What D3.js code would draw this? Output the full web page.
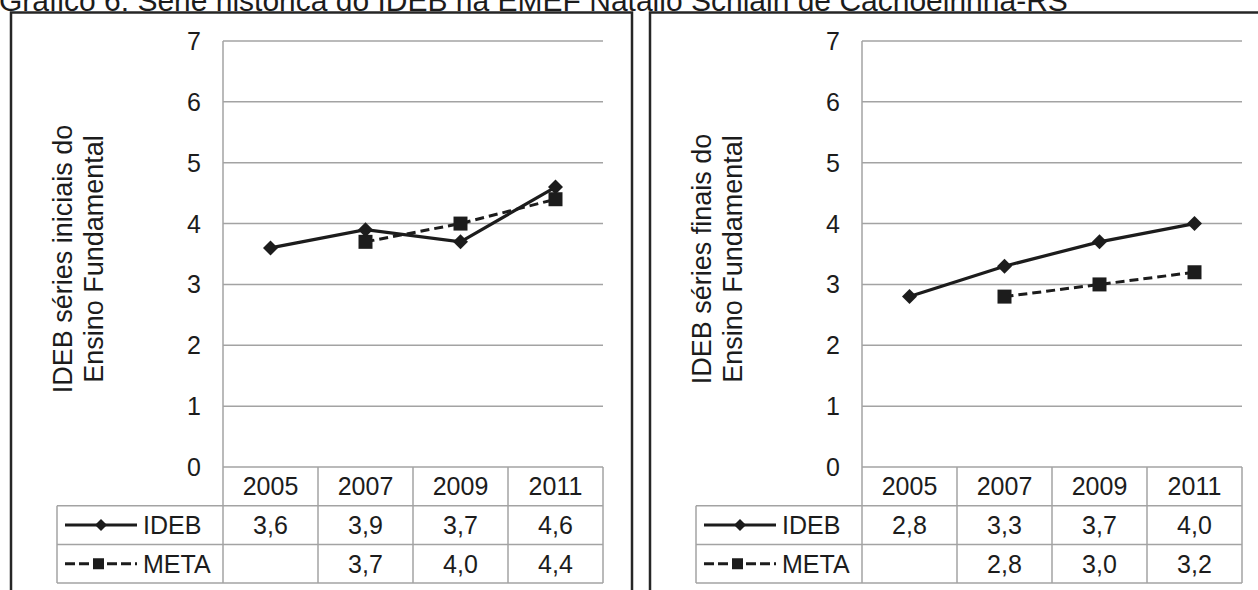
<!DOCTYPE html>
<html>
<head>
<meta charset="utf-8">
<script src="https://cdn.jsdelivr.net/npm/d3@7"></script>
<style>
  html, body { margin: 0; padding: 0; background: #fff; }
  svg { display: block; font-family: "Liberation Sans", Arial, sans-serif; }
</style>
</head>
<body>
<svg id="chart" width="1258" height="590"></svg>
<script>
// IDEB history, EMEF Natalio Schlain
const years = ["2005", "2007", "2009", "2011"];
const yTicks = [0, 1, 2, 3, 4, 5, 6, 7];

const idebIniciais = [3.6, 3.9, 3.7, 4.6];
const metaIniciais = [null, 3.7, 4.0, 4.4];

const idebFinais = [2.8, 3.3, 3.7, 4.0];
const metaFinais = [null, 2.8, 3.0, 3.2];

const titleText = "Gráfico 6: Série histórica do IDEB na EMEF Natalio Schlain de Cachoeirinha-RS";
const yTitleIniciais = ["IDEB séries iniciais do", "Ensino Fundamental"];
const yTitleFinais = ["IDEB séries finais do", "Ensino Fundamental"];

const ptBR = d3.formatLocale({ decimal: ",", thousands: ".", grouping: [3], currency: ["R$", ""] });
const fmt = ptBR.format(".1f");

const INK = "#1c1c1c";
const GRID = "#a3a3a3";
const FONT = 25;

const svg = d3.select("#chart");

// page caption, partly cropped at the top edge
svg.append("text")
  .attr("x", -1).attr("y", 11)
  .attr("font-size", 30).attr("fill", INK)
  .text(titleText);

function drawPanel(offsetX, yTitle, ideb, meta) {
  const g = svg.append("g").attr("transform", `translate(${offsetX},0)`);

  // panel frame
  g.append("rect")
    .attr("x", 11).attr("y", 12.5)
    .attr("width", 621).attr("height", 640)
    .attr("fill", "none").attr("stroke", "#262626").attr("stroke-width", 2.5);

  const x = d3.scaleBand().domain(years).range([223, 603]);
  const y = d3.scaleLinear().domain([0, 7]).range([467, 41]);

  const tableLeft = 57;
  const rowH = 38.7;
  const rowTop = [467, 467 + rowH, 467 + 2 * rowH, 467 + 3 * rowH];

  // horizontal gridlines
  g.append("g").selectAll("line").data(yTicks.filter(d => d > 0)).join("line")
    .attr("x1", 223).attr("x2", 603)
    .attr("y1", d => y(d)).attr("y2", d => y(d))
    .attr("stroke", GRID).attr("stroke-width", 1.5);

  // y tick labels
  g.append("g").selectAll("text").data(yTicks).join("text")
    .attr("x", 201).attr("y", d => y(d))
    .attr("dy", "0.36em")
    .attr("text-anchor", "end")
    .attr("font-size", FONT).attr("fill", INK)
    .text(d => d);

  // y title (two lines)
  const cy = (y(0) + y(7)) / 2 + 5;
  yTitle.forEach((t, i) => {
    g.append("text")
      .attr("transform", `translate(${62 + i * 31},${cy}) rotate(-90)`)
      .attr("dy", "0.36em")
      .attr("text-anchor", "middle")
      .attr("font-size", 27).attr("fill", INK)
      .text(t);
  });

  // data table grid
  const tg = g.append("g").attr("stroke", GRID).attr("stroke-width", 1.5);
  // plot-area left edge running down through the table
  tg.append("line").attr("x1", 223).attr("x2", 223).attr("y1", y(7)).attr("y2", rowTop[3]);
  // header row top and right edges
  tg.append("line").attr("x1", 223).attr("x2", 603).attr("y1", rowTop[0]).attr("y2", rowTop[0]);
  tg.append("line").attr("x1", 603).attr("x2", 603).attr("y1", rowTop[0]).attr("y2", rowTop[3]);
  // row separators
  [1, 2, 3].forEach(r => {
    tg.append("line").attr("x1", tableLeft).attr("x2", 603).attr("y1", rowTop[r]).attr("y2", rowTop[r]);
  });
  tg.append("line").attr("x1", tableLeft).attr("x2", tableLeft).attr("y1", rowTop[1]).attr("y2", rowTop[3]);
  years.slice(1).forEach(yr => {
    tg.append("line").attr("x1", x(yr)).attr("x2", x(yr)).attr("y1", rowTop[0]).attr("y2", rowTop[3]);
  });

  const cx = d => x(d) + x.bandwidth() / 2;

  // header labels
  g.append("g").selectAll("text").data(years).join("text")
    .attr("x", cx).attr("y", (rowTop[0] + rowTop[1]) / 2)
    .attr("dy", "0.36em").attr("text-anchor", "middle")
    .attr("font-size", FONT).attr("fill", INK)
    .text(d => d);

  // value rows
  const rows = [ideb, meta];
  rows.forEach((vals, r) => {
    g.append("g").selectAll("text")
      .data(years.map((yr, i) => ({ yr, v: vals[i] })).filter(d => d.v != null))
      .join("text")
      .attr("x", d => cx(d.yr)).attr("y", (rowTop[r + 1] + rowTop[r + 2]) / 2)
      .attr("dy", "0.36em").attr("text-anchor", "middle")
      .attr("font-size", FONT).attr("fill", INK)
      .text(d => fmt(d.v));
  });

  // legend keys inside the table
  const legY1 = (rowTop[1] + rowTop[2]) / 2;
  const legY2 = (rowTop[2] + rowTop[3]) / 2;
  g.append("line").attr("x1", 65).attr("x2", 137).attr("y1", legY1).attr("y2", legY1)
    .attr("stroke", INK).attr("stroke-width", 3);
  g.append("path").attr("d", d3.symbol().type(d3.symbolSquare).size(72)())
    .attr("transform", `translate(101,${legY1}) rotate(45)`).attr("fill", INK);
  g.append("text").attr("x", 143).attr("y", legY1).attr("dy", "0.36em")
    .attr("font-size", FONT).attr("fill", INK).text("IDEB");

  g.append("line").attr("x1", 65).attr("x2", 137).attr("y1", legY2).attr("y2", legY2)
    .attr("stroke", INK).attr("stroke-width", 3).attr("stroke-dasharray", "10,4");
  g.append("path").attr("d", d3.symbol().type(d3.symbolSquare).size(121)())
    .attr("transform", `translate(98.5,${legY2})`).attr("fill", INK);
  g.append("text").attr("x", 143).attr("y", legY2).attr("dy", "0.36em")
    .attr("font-size", FONT).attr("fill", INK).text("META");

  // series lines
  const line = d3.line()
    .defined(d => d.v != null)
    .x(d => cx(d.yr)).y(d => y(d.v));
  const idebPts = years.map((yr, i) => ({ yr, v: ideb[i] }));
  const metaPts = years.map((yr, i) => ({ yr, v: meta[i] }));

  g.append("path").datum(metaPts).attr("d", line)
    .attr("fill", "none").attr("stroke", INK).attr("stroke-width", 3)
    .attr("stroke-dasharray", "9,5");
  g.append("g").selectAll("path").data(metaPts.filter(d => d.v != null)).join("path")
    .attr("d", d3.symbol().type(d3.symbolSquare).size(196)())
    .attr("transform", d => `translate(${cx(d.yr)},${y(d.v)})`)
    .attr("fill", INK);

  g.append("path").datum(idebPts).attr("d", line)
    .attr("fill", "none").attr("stroke", INK).attr("stroke-width", 3.2);
  g.append("g").selectAll("path").data(idebPts).join("path")
    .attr("d", d3.symbol().type(d3.symbolSquare).size(112)())
    .attr("transform", d => `translate(${cx(d.yr)},${y(d.v)}) rotate(45)`)
    .attr("fill", INK);
}

drawPanel(0, yTitleIniciais, idebIniciais, metaIniciais);
drawPanel(639, yTitleFinais, idebFinais, metaFinais);
</script>
</body>
</html>
